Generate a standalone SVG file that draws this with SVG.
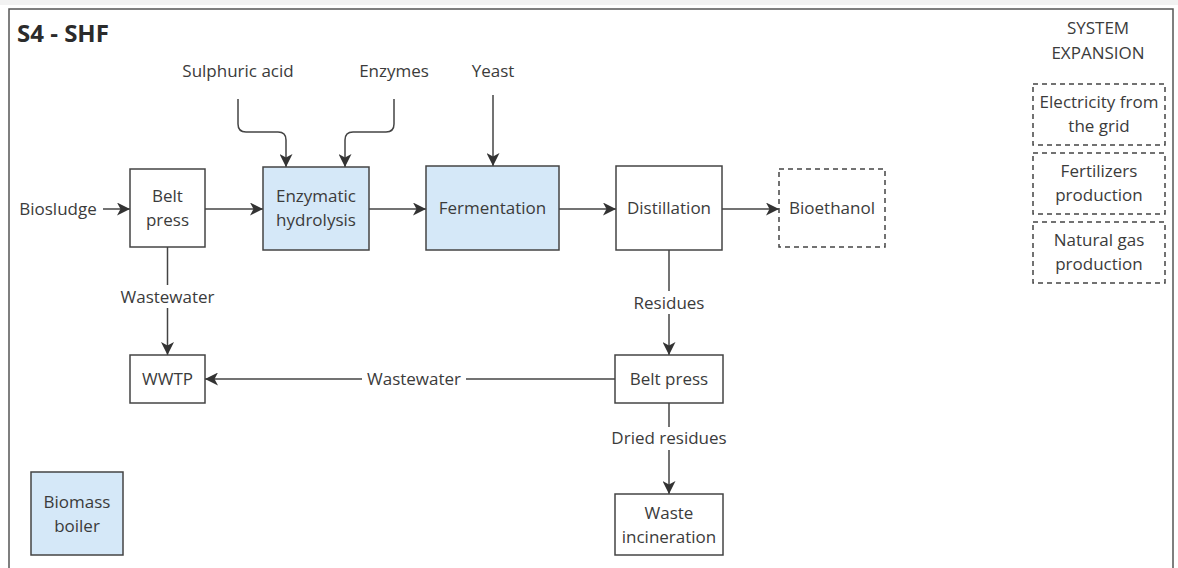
<svg xmlns="http://www.w3.org/2000/svg" width="1178" height="568" viewBox="0 0 1178 568">
<defs>
<style>
text{font-family:"Open Sans","Liberation Sans",sans-serif;font-size:17px;fill:#3b3b3b;text-anchor:middle}
.title{font-weight:bold;font-size:24px;text-anchor:start;fill:#2b2b2b}
.box{fill:#fff;stroke:#444;stroke-width:1.5}
.blue{fill:#d5e8f8;stroke:#444;stroke-width:1.5}
.dash{fill:#fff;stroke:#444;stroke-width:1.5;stroke-dasharray:5,4}
.conn{fill:none;stroke:#444;stroke-width:1.5}
.lbl{fill:#fff}
</style>
<marker id="arr" viewBox="0 0 13 13" refX="13" refY="6.5" markerWidth="13" markerHeight="13" markerUnits="userSpaceOnUse" orient="auto">
<path d="M0,0 L13,6.5 L0,13 L3.5,6.5 Z" fill="#333"/>
</marker>
</defs>
<rect x="0" y="0" width="1178" height="568" fill="#fff"/>
<rect x="0" y="0" width="1178" height="5" fill="#f2f2f2"/>
<rect x="9" y="9" width="1164" height="570" fill="#fff" stroke="#555" stroke-width="1.5"/>
<text class="title" x="17" y="42">S4 - SHF</text>

<g id="labels">
<text x="238" y="77">Sulphuric acid</text>
<text x="394" y="77">Enzymes</text>
<text x="493" y="77">Yeast</text>
<text x="58" y="215">Biosludge</text>
<text x="1098" y="34">SYSTEM</text>
<text x="1098" y="59">EXPANSION</text>
</g>

<g id="connectors">
<path class="conn" d="M238,99 V124 Q238,132 246,132 H278 Q286,132 286,140 V167" marker-end="url(#arr)"/>
<path class="conn" d="M394,99 V124 Q394,132 386,132 H353 Q345,132 345,140 V167" marker-end="url(#arr)"/>
<path class="conn" d="M493,95 V166" marker-end="url(#arr)"/>
<path class="conn" d="M103,209 H130" marker-end="url(#arr)"/>
<path class="conn" d="M205,209 H263" marker-end="url(#arr)"/>
<path class="conn" d="M369,209 H426" marker-end="url(#arr)"/>
<path class="conn" d="M559,209 H616" marker-end="url(#arr)"/>
<path class="conn" d="M722,209 H779" marker-end="url(#arr)"/>
<path class="conn" d="M167.5,247 V355" marker-end="url(#arr)"/>
<path class="conn" d="M615,379 H205" marker-end="url(#arr)"/>
<path class="conn" d="M669,250 V355" marker-end="url(#arr)"/>
<path class="conn" d="M669,403 V494" marker-end="url(#arr)"/>
<rect class="lbl" x="118" y="285" width="100" height="23"/>
<text x="167.5" y="303">Wastewater</text>
<rect class="lbl" x="362" y="368" width="104" height="23"/>
<text x="414" y="385">Wastewater</text>
<rect class="lbl" x="630" y="291" width="78" height="23"/>
<text x="669" y="309">Residues</text>
<rect class="lbl" x="607" y="427" width="124" height="23"/>
<text x="669" y="444">Dried residues</text>
</g>

<g id="belt-press-1">
<rect class="box" x="130" y="169" width="75" height="78"/>
<text x="167.5" y="202">Belt</text>
<text x="167.5" y="226">press</text>
</g>
<g id="enzymatic-hydrolysis">
<rect class="blue" x="263" y="167" width="106" height="83"/>
<text x="316" y="202">Enzymatic</text>
<text x="316" y="226">hydrolysis</text>
</g>
<g id="fermentation">
<rect class="blue" x="426" y="166" width="133" height="84"/>
<text x="492.5" y="214">Fermentation</text>
</g>
<g id="distillation">
<rect class="box" x="616" y="166" width="106" height="84"/>
<text x="669" y="214">Distillation</text>
</g>
<g id="bioethanol">
<rect class="dash" x="779" y="169" width="106" height="78"/>
<text x="832" y="214">Bioethanol</text>
</g>
<g id="wwtp">
<rect class="box" x="130" y="355" width="75" height="48"/>
<text x="167.5" y="385">WWTP</text>
</g>
<g id="belt-press-2">
<rect class="box" x="615" y="355" width="108" height="48"/>
<text x="669" y="385">Belt press</text>
</g>
<g id="waste-incineration">
<rect class="box" x="615" y="494" width="108" height="61"/>
<text x="669" y="519">Waste</text>
<text x="669" y="543">incineration</text>
</g>
<g id="biomass-boiler">
<rect class="blue" x="31" y="472" width="92" height="83"/>
<text x="77" y="508">Biomass</text>
<text x="77" y="532">boiler</text>
</g>
<g id="electricity">
<rect class="dash" x="1033" y="84" width="132" height="61"/>
<text x="1099" y="108">Electricity from</text>
<text x="1099" y="132">the grid</text>
</g>
<g id="fertilizers">
<rect class="dash" x="1033" y="153" width="132" height="61"/>
<text x="1099" y="177">Fertilizers</text>
<text x="1099" y="201">production</text>
</g>
<g id="natural-gas">
<rect class="dash" x="1033" y="222" width="132" height="61"/>
<text x="1099" y="246">Natural gas</text>
<text x="1099" y="270">production</text>
</g>
</svg>
